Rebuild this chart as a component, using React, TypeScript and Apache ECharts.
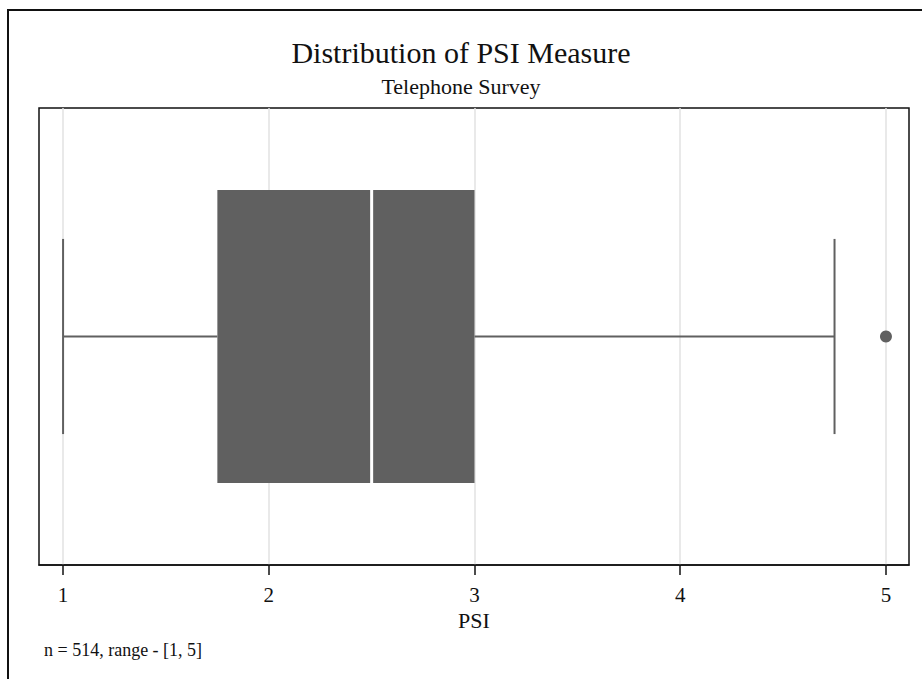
import React, { useEffect, useRef } from "react";
import * as echarts from "echarts";

const titleText = "Distribution of PSI Measure";
const subtitleText = "Telephone Survey";
const axisName = "PSI";
const noteText = "n = 514, range - [1, 5]";
// five-number summary: lower whisker, Q1, median, Q3, upper whisker
const boxStats = [1, 1.75, 2.5, 3, 4.75];
const outliers = [5];
const tickValues = [1, 2, 3, 4, 5];

const FONT = "Liberation Serif";
const GREY = "#606060";

export default function App() {
  const ref = useRef<HTMLDivElement>(null);
  useEffect(() => {
    document.body.style.margin = "0";
    const chart = echarts.init(ref.current!, null, { renderer: "svg" });
    chart.setOption({
      animation: false,
      backgroundColor: "#ffffff",
      title: {
        text: titleText,
        subtext: subtitleText,
        left: "center",
        top: 32,
        itemGap: 8,
        textStyle: { fontFamily: FONT, fontSize: 30, fontWeight: "normal", color: "#111" },
        subtextStyle: { fontFamily: FONT, fontSize: 22, color: "#111" },
      },
      grid: {
        left: 39,
        right: 13,
        top: 108,
        bottom: 114,
        show: true,
        borderColor: "#111",
        borderWidth: 1.5,
        backgroundColor: "transparent",
      },
      xAxis: {
        type: "value",
        min: 0.883,
        max: 5.112,
        name: axisName,
        nameLocation: "middle",
        nameGap: 42,
        nameTextStyle: { fontFamily: FONT, fontSize: 22, color: "#111" },
        axisLine: { show: true, onZero: false, lineStyle: { color: "#111", width: 1.5 } },
        axisTick: { show: true, length: 10, customValues: tickValues, lineStyle: { color: "#111", width: 1.5 } },
        axisLabel: { customValues: tickValues, fontFamily: FONT, fontSize: 21, color: "#111", margin: 19 },
        splitLine: { show: false },
      },
      yAxis: {
        type: "value",
        min: -1,
        max: 1,
        show: false,
        splitLine: { show: false },
      },
      graphic: [
        {
          type: "rect",
          shape: { x: 8, y: 10, width: 940, height: 700 },
          style: { fill: "none", stroke: "#111", lineWidth: 2 },
          silent: true,
        },
        {
          type: "text",
          left: 44,
          top: 641,
          style: { text: noteText, fontFamily: FONT, fontSize: 18, fill: "#111" },
        },
      ],
      series: [
        {
          type: "scatter",
          data: [],
          z: 0,
          silent: true,
          markLine: {
            z: 0,
            silent: true,
            symbol: "none",
            label: { show: false },
            lineStyle: { color: "#e2e2e2", width: 1.5, type: "solid" },
            data: tickValues.map((v) => ({ xAxis: v })),
          },
        },
        {
          type: "custom",
          z: 3,
          data: [boxStats],
          renderItem: (params: any, api: any) => {
            const lo = api.coord([api.value(0), 0]);
            const q1 = api.coord([api.value(1), 0]);
            const md = api.coord([api.value(2), 0]);
            const q3 = api.coord([api.value(3), 0]);
            const hi = api.coord([api.value(4), 0]);
            const unit = api.size([0, 1])[1];
            const boxHalf = unit * 0.641;
            const capHalf = unit * 0.427;
            const cy = lo[1];
            const lineStyle = { stroke: GREY, lineWidth: 2 };
            return {
              type: "group",
              children: [
                { type: "line", shape: { x1: lo[0], y1: cy, x2: q1[0], y2: cy }, style: lineStyle },
                { type: "line", shape: { x1: q3[0], y1: cy, x2: hi[0], y2: cy }, style: lineStyle },
                { type: "line", shape: { x1: lo[0], y1: cy - capHalf, x2: lo[0], y2: cy + capHalf }, style: lineStyle },
                { type: "line", shape: { x1: hi[0], y1: cy - capHalf, x2: hi[0], y2: cy + capHalf }, style: lineStyle },
                {
                  type: "rect",
                  shape: { x: q1[0], y: cy - boxHalf, width: q3[0] - q1[0], height: boxHalf * 2 },
                  style: { fill: GREY },
                },
                {
                  type: "line",
                  shape: { x1: md[0], y1: cy - boxHalf, x2: md[0], y2: cy + boxHalf },
                  style: { stroke: "#ffffff", lineWidth: 3 },
                },
              ],
            };
          },
        },
        {
          type: "scatter",
          z: 4,
          symbol: "circle",
          symbolSize: 12,
          itemStyle: { color: GREY, opacity: 1 },
          data: outliers.map((v) => [v, 0]),
        },
      ],
    });
    return () => chart.dispose();
  }, []);
  return <div ref={ref} style={{ width: 922, height: 679 }} />;
}
